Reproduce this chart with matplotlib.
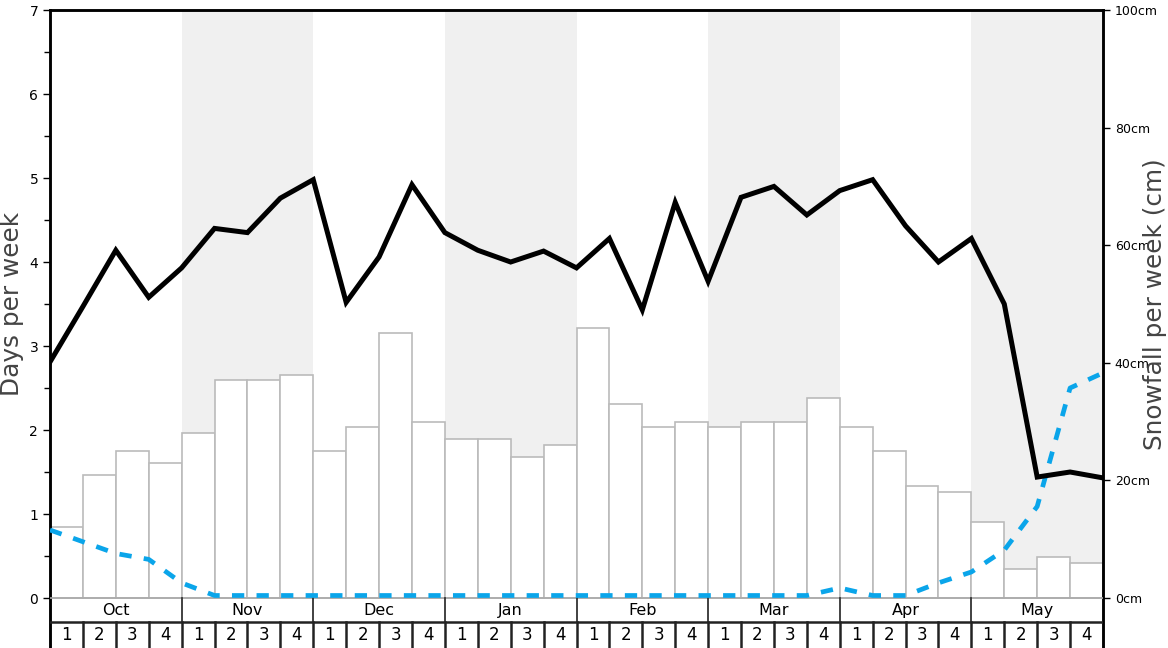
import matplotlib
matplotlib.use("Agg")
import matplotlib.pyplot as plt
import numpy as np

# === Data ===
months = ["Oct", "Nov", "Dec", "Jan", "Feb", "Mar", "Apr", "May"]
week_labels = ["1", "2", "3", "4"]

# weekly snowfall (cm), one bar per week
snowfall_cm = [12, 21, 25, 23, 28, 37, 37, 38,
               25, 29, 45, 30, 27, 27, 24, 26,
               46, 33, 29, 30, 29, 30, 30, 34,
               29, 25, 19, 18, 13, 5, 7, 6]

# days per week, values at week boundaries (33 points)
snow_days = [2.81, 3.47, 4.14, 3.58, 3.93, 4.40, 4.35, 4.76, 4.98,
             3.52, 4.06, 4.92, 4.35, 4.14, 4.00, 4.13, 3.93,
             4.28, 3.43, 4.71, 3.77, 4.77, 4.90, 4.56, 4.85,
             4.98, 4.43, 4.00, 4.28, 3.50, 1.44, 1.50, 1.43]

# second series (dashed blue), at week boundaries
other_days = [0.81, 0.67, 0.53, 0.46, 0.18, 0.03, 0.03, 0.03, 0.03,
              0.03, 0.03, 0.03, 0.03, 0.03, 0.03, 0.03, 0.03,
              0.03, 0.03, 0.03, 0.03, 0.03, 0.03, 0.03, 0.12,
              0.03, 0.03, 0.18, 0.31, 0.57, 1.09, 2.50, 2.68]

n_weeks = len(snowfall_cm)
ymin_days, ymax_days = -0.595, 7
cm_per_day = 100 / 7

# === Figure ===
fig = plt.figure(figsize=(11.68, 6.48), dpi=100)
ax = fig.add_axes([50 / 1168, 0, 1053 / 1168, 638 / 648])
ax2 = ax.twinx()
ax.set_zorder(ax2.get_zorder() + 1)
ax.patch.set_visible(False)

ax.set_xlim(0, n_weeks)
ax.set_ylim(ymin_days, ymax_days)
ax2.set_ylim(ymin_days * cm_per_day, ymax_days * cm_per_day)

# === Shading for alternate months (on the back axis) ===
for m in range(1, len(months), 2):
    ax2.fill_between([4 * m, 4 * m + 4], 0, 100, color="#f0f0f0", lw=0, zorder=0)

# === Bars (snowfall, cm) ===
x_bars = np.arange(n_weeks) + 0.5
ax2.bar(x_bars, snowfall_cm, width=1.0, color="white", edgecolor="#bbbbbb",
        linewidth=1.2, zorder=2)

# === Lines (days) ===
x_pts = np.arange(len(snow_days))
ax.plot(x_pts, snow_days, color="black", lw=3.6, zorder=5, solid_joinstyle="miter")
ax.plot(x_pts, other_days, color="#0aa5ea", lw=3.4, ls=(0, (2.6, 2.6)), zorder=4)

# === Category rows below zero ===
row_mid = -0.286
ax.axhline(0, color="#aaaaaa", lw=1.2, zorder=3)
ax.axhline(row_mid, color="#222222", lw=1.8, zorder=3)
for m in range(1, len(months)):
    ax.plot([4 * m, 4 * m], [row_mid, 0], color="#333333", lw=1.3, zorder=3)
for w in range(1, n_weeks):
    ax.plot([w, w], [ymin_days, row_mid], color="#222222", lw=1.8, zorder=3)
for m, name in enumerate(months):
    ax.text(4 * m + 2, row_mid / 2, name, ha="center", va="center", fontsize=11.5)
for w in range(n_weeks):
    ax.text(w + 0.5, (row_mid + ymin_days) / 2, week_labels[w % 4],
            ha="center", va="center", fontsize=12)

# === Axes styling ===
ax.set_xticks([])
ax.set_yticks(range(0, 8))
ax.set_yticks(np.arange(0.5, 7, 1), minor=True)
ax.tick_params(axis="y", which="major", labelsize=10, length=5, width=1)
ax.tick_params(axis="y", which="minor", length=4, width=1)
ax2.set_yticks(range(0, 101, 20))
ax2.set_yticklabels([f"{v}cm" for v in range(0, 101, 20)])
ax2.tick_params(axis="y", labelsize=9, length=5, width=1)

for a in (ax, ax2):
    for side in ("left", "right", "top"):
        a.spines[side].set_linewidth(1.8)
        a.spines[side].set_color("black")
    a.spines["bottom"].set_visible(False)

fig.text(12 / 1168, 1 - 304 / 648, "Days per week", rotation=90, ha="center",
         va="center", fontsize=17.8, color="#444444")
fig.text(1155 / 1168, 1 - 304 / 648, "Snowfall per week (cm)", rotation=90,
         ha="center", va="center", fontsize=17.8, color="#444444")

fig.savefig("out.png", dpi=100)
